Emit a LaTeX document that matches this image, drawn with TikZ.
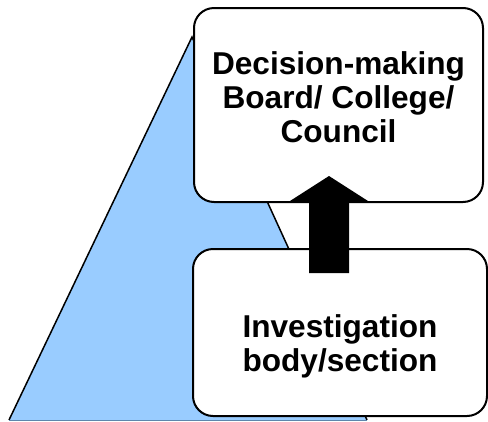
\documentclass[tikz,border=0pt]{standalone}
\usepackage{fontspec}
\setmainfont{Liberation Sans}
\usetikzlibrary{calc}
\definecolor{skyfill}{HTML}{99CCFF}
\definecolor{skyedge}{HTML}{5F87AD}
\begin{document}
\begin{tikzpicture}[x=1pt,y=-1pt,
  panel/.style={draw=black, line width=2pt, fill=white, rounded corners=20pt, inner sep=0pt},
  caption/.style={font=\fontsize{31.6}{34}\selectfont\bfseries, align=center, inner sep=0pt},
  blockarrow/.style={fill=black}]
\useasboundingbox (0,0) rectangle (488,421);
\clip (0,0) rectangle (488,421);

% background triangle
\coordinate (apex) at (192,37);
\coordinate (baseL) at (9,420);
\coordinate (baseR) at (367,420);
\fill[skyfill] (apex) -- (baseL) -- (baseR) -- cycle;
\draw[line width=1.5pt, line join=miter] (baseL) -- (apex) -- (baseR);
\draw[skyedge, line width=1pt] (baseL) -- (baseR);

% the two boxes
\node[panel, minimum width=289pt, minimum height=194pt] (board) at (338.5,105) {};
\node[panel, minimum width=294pt, minimum height=167pt] (inquiry) at (340,332.5) {};

\node[caption] (boardtext) at ([yshift=7.5pt]board.center)
  {Decision-making\\Board/ College/\\Council};
\node[caption] (inquirytext) at ([yshift=-14.3pt]inquiry.center)
  {Investigation\\body/section};

% block arrow from the investigation body up to the board
\coordinate (tail) at (329,273);
\coordinate (tip) at (329,176);
\fill[blockarrow] ($(tail)+(-20,0)$) -- ($(tip)+(-20,25)$) -- ($(tip)+(-39,25)$)
  -- (tip) -- ($(tip)+(39,25)$) -- ($(tip)+(20,25)$) -- ($(tail)+(20,0)$) -- cycle;
\end{tikzpicture}
\end{document}
